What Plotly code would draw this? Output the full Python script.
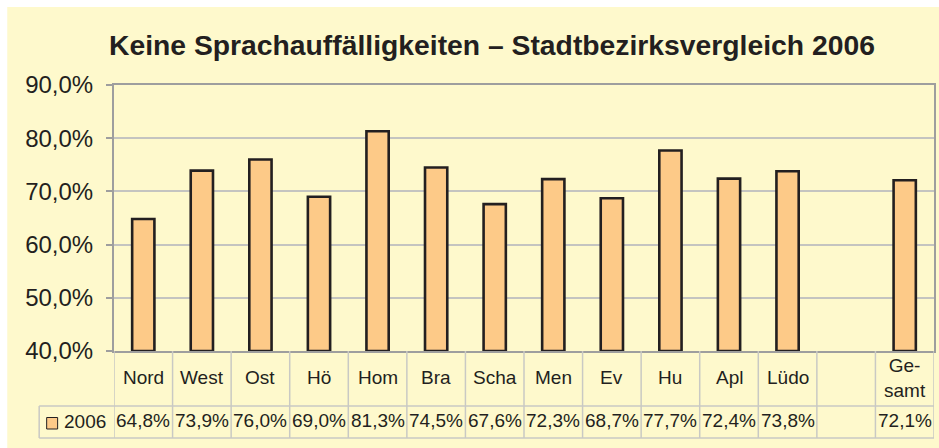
import plotly.graph_objects as go

# ---- data ----
categories = ["Nord", "West", "Ost", "Hö", "Hom", "Bra", "Scha", "Men", "Ev", "Hu", "Apl", "Lüdo", "", "Gesamt"]
table_labels = ["Nord", "West", "Ost", "Hö", "Hom", "Bra", "Scha", "Men", "Ev", "Hu", "Apl", "Lüdo", "", "Ge-<br>samt"]
values_2006 = [64.8, 73.9, 76.0, 69.0, 81.3, 74.5, 67.6, 72.3, 68.7, 77.7, 72.4, 73.8, None, 72.1]
series_name = "2006"
y_ticks = [40, 50, 60, 70, 80, 90]
y_tick_labels = ["40,0%", "50,0%", "60,0%", "70,0%", "80,0%", "90,0%"]
title_text = "Keine Sprachauffälligkeiten – Stadtbezirksvergleich 2006"

# ---- layout geometry (pixels) ----
W, H = 939, 448
L, R, T, B = 114, 3, 85, 97
PW = W - L - R
PH = H - T - B
Y_MIN = 40

def px(x):
    return (x - L) / PW

def py(y):
    return (H - B - y) / PH

FONT = "Liberation Sans, Arial, sans-serif"
TXT = "#231F20"
BAR = "#FDCA88"
GRID_TBL = "#C9C9C4"

n = len(categories)
xs = list(range(n))

fig = go.Figure()
fig.add_trace(go.Bar(
    x=xs,
    y=[(v - Y_MIN) if v is not None else None for v in values_2006],
    base=Y_MIN,
    width=0.38,
    marker=dict(color=BAR, line=dict(color=TXT, width=2.6)),
    name=series_name,
    showlegend=False,
    hoverinfo="skip",
))

shapes = []
# outer light-yellow background
shapes.append(dict(type="rect", xref="paper", yref="paper", layer="below",
                   x0=px(7), x1=px(W + 5), y0=py(H + 5), y1=py(7),
                   fillcolor="#FEF9CC", line=dict(width=0)))
# table grid: category row verticals
for k in range(n + 1):
    xpos = k - 0.5
    shapes.append(dict(type="line", xref="x", yref="paper",
                       x0=xpos, x1=xpos, y0=py(351), y1=py(438 if k in (0, n) else 406),
                       line=dict(color=GRID_TBL, width=1.5)))
# value row verticals
for k in range(1, n):
    xpos = k - 0.5
    shapes.append(dict(type="line", xref="x", yref="paper",
                       x0=xpos, x1=xpos, y0=py(406), y1=py(438),
                       line=dict(color=GRID_TBL, width=1.5)))
# value row horizontals and left border
for yy in (406, 438):
    shapes.append(dict(type="line", xref="paper", yref="paper",
                       x0=px(39), x1=px(W - R), y0=py(yy), y1=py(yy),
                       line=dict(color=GRID_TBL, width=1.5)))
shapes.append(dict(type="line", xref="paper", yref="paper",
                   x0=px(39), x1=px(39), y0=py(406), y1=py(438),
                   line=dict(color=GRID_TBL, width=1.5)))
# legend key square
shapes.append(dict(type="rect", xref="paper", yref="paper",
                   x0=px(46.5), x1=px(57.5), y0=py(429), y1=py(417.5),
                   fillcolor=BAR, line=dict(color=TXT, width=1)))

annotations = []
annotations.append(dict(text=f"<b>{title_text}</b>", xref="paper", yref="paper",
                        x=px(493), y=py(44.6), xanchor="center", yanchor="middle",
                        showarrow=False, font=dict(family=FONT, size=28.3, color=TXT)))
for i, lab in enumerate(table_labels):
    if lab:
        annotations.append(dict(text=lab, xref="x", yref="paper", x=i, y=py(377.5),
                                xanchor="center", yanchor="middle", showarrow=False,
                                font=dict(family=FONT, size=19, color=TXT)))
    v = values_2006[i]
    if v is not None:
        annotations.append(dict(text=f"{v:.1f}%".replace(".", ","), xref="x", yref="paper",
                                x=i, y=py(420.5), xanchor="center", yanchor="middle",
                                showarrow=False, font=dict(family=FONT, size=19, color=TXT)))
annotations.append(dict(text=series_name, xref="paper", yref="paper", x=px(62), y=py(421),
                        xanchor="left", yanchor="middle", showarrow=False,
                        font=dict(family=FONT, size=19, color=TXT)))

fig.update_layout(
    width=W, height=H,
    margin=dict(l=L, r=R, t=T, b=B, pad=0),
    paper_bgcolor="white",
    plot_bgcolor="#F2EF92",
    font=dict(family=FONT, color=TXT),
    shapes=shapes,
    annotations=annotations,
    bargap=0.6,
    hovermode=False,
    xaxis=dict(range=[-0.5, n - 0.5], showticklabels=False, showgrid=False, zeroline=False,
               showline=True, linecolor="#9E9E9E", linewidth=1.5, mirror=True, ticks=""),
    yaxis=dict(range=[40, 90], tickvals=y_ticks, ticktext=y_tick_labels,
               showgrid=True, gridcolor="#C4C4C0", gridwidth=1.5, zeroline=False,
               showline=True, linecolor="#9E9E9E", linewidth=2, mirror=True,
               ticks="outside", ticklen=6, tickcolor="#9E9E9E", tickwidth=1.5,
               ticklabelstandoff=8,
               tickfont=dict(family=FONT, size=24, color=TXT)),
)

fig.write_html("out.html", config={"displayModeBar": False},
               post_script="document.body.style.margin='0';document.body.style.overflow='hidden';")
